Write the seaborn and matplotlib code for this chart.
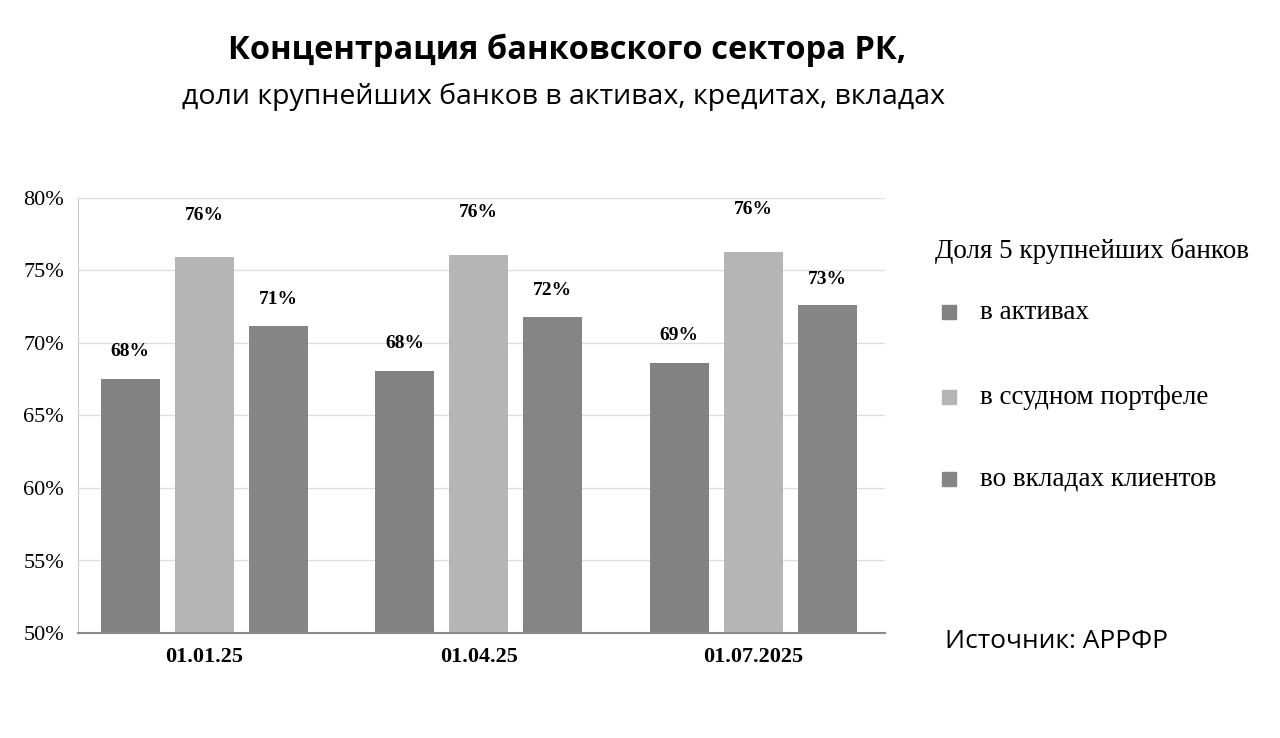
import matplotlib
matplotlib.use("Agg")
import matplotlib.pyplot as plt
import seaborn as sns
import pandas as pd

categories = ["01.01.25", "01.04.25", "01.07.2025"]
series = ["в активах", "в ссудном портфеле", "во вкладах клиентов"]
assets = [67.5, 68.1, 68.6]
loans = [75.9, 76.1, 76.3]
deposits = [71.2, 71.8, 72.6]
labels_assets = ["68%", "68%", "69%"]
labels_loans = ["76%", "76%", "76%"]
labels_deposits = ["71%", "72%", "73%"]
yticks = [50, 55, 60, 65, 70, 75, 80]

rows = []
for i, c in enumerate(categories):
    rows.append((c, series[0], assets[i], labels_assets[i]))
    rows.append((c, series[1], loans[i], labels_loans[i]))
    rows.append((c, series[2], deposits[i], labels_deposits[i]))
df = pd.DataFrame(rows, columns=["cat", "ser", "val", "lab"])

colors = ["#828282", "#b5b5b5", "#858585"]
fig = plt.figure(figsize=(12.8, 7.38), dpi=100)
ax = fig.add_axes([78/1280, 1-633/738, (885-78)/1280, (633-198)/738])
sns.barplot(data=df, x="cat", y="val", hue="ser", palette=colors, ax=ax,
            width=0.81, legend=False, saturation=1)
bw = 0.215
for p in ax.patches:
    cx = p.get_x() + p.get_width()/2
    p.set_x(cx - bw/2); p.set_width(bw)
    h = p.get_height()
    p.set_y(50); p.set_height(h - 50)
offsets = [1.9, 2.9, 1.8]
for j, s in enumerate(series):
    sub = df[df.ser == s]
    for i, (v, l) in enumerate(zip(sub.val, sub.lab)):
        x = i + (j - 1) * 0.27
        ax.text(x, v + offsets[j], l, ha="center", va="center", fontsize=14,
                fontweight="bold", family="Liberation Serif")
ax.set_ylim(50, 80)
ax.set_xlim(-0.46, 2.48)
ax.set_yticks(yticks)
ax.set_yticklabels([f"{t}%" for t in yticks], family="Liberation Serif", fontsize=16)
ax.set_xticks(range(3))
ax.set_xticklabels(categories, family="Liberation Serif", fontsize=16, fontweight="bold")
ax.tick_params(length=0, pad=10)
ax.set_xlabel(""); ax.set_ylabel("")
ax.yaxis.grid(True, color="#dddddd", lw=1)
ax.set_axisbelow(True)
for s in ["top", "right"]:
    ax.spines[s].set_visible(False)
ax.spines["left"].set_color("#cccccc")
ax.spines["bottom"].set_color("#888888")
ax.spines["bottom"].set_linewidth(1.5)

fig.text(567/1280, 1-50/738, "Концентрация банковского сектора РК,", ha="center", va="center",
         fontsize=23.5, fontweight="bold", family="Open Sans")
fig.text(563/1280, 1-97/738, "доли крупнейших банков в активах, кредитах, вкладах", ha="center",
         va="center", fontsize=20.5, family="Open Sans")
fig.text(935/1280, 1-251/738, "Доля 5 крупнейших банков", fontsize=19.5, family="Liberation Serif", va="center")
ly = [312, 397, 479]
for j, s in enumerate(series):
    fig.patches.append(plt.Rectangle((942/1280, 1-(ly[j]+7)/738), 14/1280, 14/738,
                                     transform=fig.transFigure, color=colors[j]))
    fig.text(980/1280, 1-ly[j]/738, s, fontsize=19.5, family="Liberation Serif", va="center")
fig.text(945/1280, 1-642/738, "Источник: АРРФР", fontsize=19, family="Open Sans", va="center")
fig.savefig("out.png", dpi=100, facecolor="white")
